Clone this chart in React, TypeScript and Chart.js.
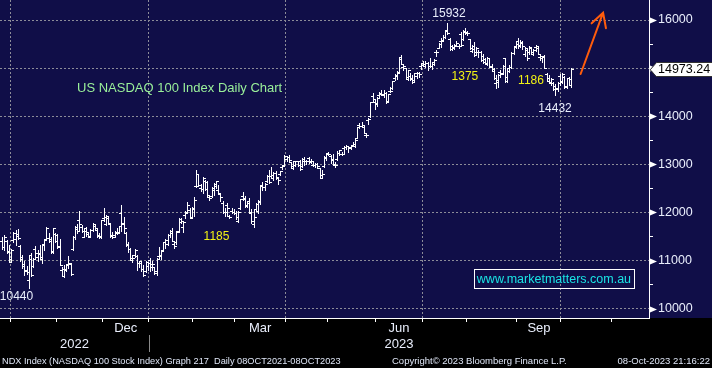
import React, { useEffect, useRef } from 'react';
import { Chart, registerables } from 'chart.js';

Chart.register(...registerables);

// Daily NDX bars, index 0 = 27-Sep-2022 ... index 258 = 06-Oct-2023
const opens: number[] = [
  11400, 11290, 11400, 11180, 11030, 11420, 11440, 11520, 11300, 11080,
  10880, 10800, 10600, 11120, 10880, 11250, 11080, 11150, 11030, 11340,
  11440, 11470, 11440, 11190, 11560, 11530, 11290, 10810, 10830, 10830,
  10930, 10920, 11240, 11500, 11660, 11850, 11700, 11500, 11680, 11560,
  11510, 11640, 11720, 11640, 11540, 11500, 11880, 11760, 11880, 11760,
  11520, 11540, 11580, 11600, 11990, 11780, 11580, 11330, 11240, 11020,
  11120, 11100, 10950, 10950, 10830, 10780, 10880, 11010, 10930, 10860,
  10790, 11100, 11090, 11220, 11390, 11340, 11530, 11620, 11350, 11380,
  11620, 11800, 11690, 11950, 11990, 12050, 11900, 12080, 12550, 12560,
  12510, 12480, 12660, 12630, 12330, 12340, 12460, 12550, 12470, 12380,
  12190, 12020, 12150, 11930, 12040, 12000, 11990, 11830, 12100, 12340,
  12290, 12160, 12230, 12000, 11750, 12070, 12030, 12220, 12570, 12530,
  12660, 12750, 12750, 12720, 12830, 12720, 12800, 12950, 12990, 13110,
  13160, 13040, 12930, 12980, 13070, 13070, 12960, 13070, 13060, 13130,
  13040, 12990, 12990, 13000, 12920, 12780, 12960, 13130, 13220, 13180,
  13110, 12990, 13110, 13240, 13220, 13350, 13370, 13380, 13360, 13390,
  13420, 13550, 13810, 13800, 13770, 13600, 13930, 14000, 14420, 14290,
  14270, 14440, 14480, 14440, 14480, 14310, 14520, 14580, 14800, 14850,
  14900, 15230, 15020, 15000, 14780, 14830, 14780, 14760, 14840, 14900,
  15040, 15100, 15040, 15100, 15050, 15040, 15120, 15340, 15420, 15560,
  15580, 15650, 15800, 15600, 15450, 15430, 15480, 15460, 15700, 15600,
  15780, 15740, 15600, 15360, 15470, 15330, 15340, 15340, 15250, 15120,
  15080, 15200, 15020, 14980, 14690, 14760, 14920, 14900, 15200, 14820,
  15010, 15030, 15320, 15450, 15560, 15470, 15520, 15300, 15380, 15330,
  15420, 15330, 15440, 15420, 15240, 15220, 15250, 14880, 14800, 14690,
  14700, 14620, 14560, 14840, 14740, 14820, 14620, 14800, 14640,
];
const highs: number[] = [
  11490, 11530, 11420, 11330, 11250, 11590, 11640, 11660, 11330, 11120,
  11000, 10890, 11100, 11150, 11050, 11300, 11210, 11320, 11340, 11450,
  11690, 11580, 11500, 11680, 11580, 11560, 11440, 10860, 10900, 10920,
  11100, 10960, 11520, 11720, 11760, 12040, 11730, 11660, 11700, 11580,
  11650, 11780, 11740, 11680, 11580, 11850, 12100, 11950, 11920, 11780,
  11600, 11620, 11680, 11720, 12160, 11900, 11600, 11380, 11270, 11110,
  11250, 11120, 11000, 10970, 10910, 11000, 10960, 11060, 10990, 10870,
  11060, 11280, 11200, 11380, 11440, 11550, 11640, 11680, 11380, 11620,
  11880, 11880, 11830, 12040, 12220, 12090, 12110, 12320, 12880, 12780,
  12590, 12740, 12680, 12660, 12360, 12520, 12620, 12660, 12580, 12390,
  12230, 12090, 12190, 11950, 12100, 12070, 12030, 12030, 12280, 12420,
  12350, 12220, 12300, 12070, 12070, 12190, 12250, 12580, 12640, 12610,
  12770, 12890, 12940, 12840, 12860, 12730, 12870, 12990, 13190, 13180,
  13200, 13050, 13080, 13070, 13080, 13090, 13130, 13150, 13090, 13150,
  13110, 13070, 13020, 13030, 12930, 12880, 13180, 13240, 13260, 13190,
  13210, 13040, 13270, 13300, 13260, 13380, 13410, 13390, 13410, 13470,
  13530, 13780, 13860, 13870, 13810, 13640, 13970, 14300, 14480, 14330,
  14400, 14510, 14540, 14540, 14500, 14470, 14610, 14730, 14880, 14950,
  15210, 15280, 15060, 15010, 14970, 14900, 14860, 14900, 14920, 14920,
  15090, 15140, 15140, 15130, 15220, 15110, 15190, 15380, 15520, 15620,
  15690, 15790, 15932, 15620, 15480, 15500, 15560, 15500, 15760, 15800,
  15830, 15780, 15610, 15480, 15540, 15440, 15380, 15360, 15290, 15200,
  15230, 15210, 15080, 15010, 14860, 14880, 14960, 15060, 15210, 14980,
  15060, 15330, 15450, 15540, 15620, 15580, 15560, 15440, 15400, 15470,
  15440, 15400, 15480, 15440, 15300, 15260, 15270, 14890, 14860, 14790,
  14720, 14670, 14720, 14880, 14900, 14840, 14800, 14820, 15000,
];
const lows: number[] = [
  11240, 11230, 11160, 10970, 10990, 11380, 11330, 11440, 10990, 10850,
  10710, 10730, 10440, 10680, 10870, 11030, 11000, 11030, 10960, 11230,
  11440, 11380, 11160, 11160, 11390, 11270, 10910, 10670, 10650, 10780,
  10850, 10700, 11230, 11440, 11580, 11640, 11600, 11480, 11520, 11480,
  11490, 11620, 11660, 11500, 11470, 11470, 11830, 11740, 11750, 11480,
  11460, 11500, 11560, 11570, 11620, 11600, 11300, 11180, 11030, 10980,
  11080, 10800, 10860, 10780, 10680, 10770, 10810, 10780, 10810, 10720,
  10700, 11060, 11040, 11200, 11260, 11330, 11500, 11400, 11260, 11340,
  11600, 11780, 11590, 11880, 11980, 11880, 11880, 11930, 12520, 12540,
  12440, 12400, 12460, 12330, 12260, 12330, 12370, 12510, 12400, 12240,
  11990, 11930, 11940, 11880, 11980, 11960, 11860, 11810, 12080, 12260,
  12110, 12120, 11980, 11790, 11700, 12030, 11990, 12170, 12460, 12470,
  12630, 12620, 12710, 12670, 12700, 12600, 12780, 12910, 12980, 13060,
  13050, 12920, 12900, 12960, 12960, 12880, 12950, 12990, 13000, 13020,
  13020, 12960, 12940, 12920, 12720, 12730, 12940, 13090, 13190, 13030,
  13000, 12950, 13100, 13200, 13200, 13240, 13320, 13250, 13310, 13380,
  13360, 13540, 13750, 13780, 13650, 13560, 13840, 13990, 14290, 14160,
  14220, 14390, 14440, 14400, 14270, 14300, 14500, 14570, 14750, 14780,
  14890, 15080, 14970, 14800, 14750, 14760, 14700, 14740, 14790, 14820,
  14990, 15060, 15020, 14960, 15030, 14990, 15060, 15250, 15410, 15440,
  15560, 15620, 15700, 15380, 15380, 15400, 15460, 15420, 15450, 15580,
  15710, 15680, 15400, 15340, 15260, 15270, 15230, 15140, 15110, 15080,
  15060, 15020, 14940, 14780, 14590, 14600, 14820, 14880, 14720, 14710,
  14920, 15010, 15300, 15420, 15420, 15440, 15400, 15250, 15170, 15300,
  15290, 15280, 15360, 15290, 15170, 15120, 15000, 14730, 14700, 14640,
  14540, 14432, 14520, 14640, 14690, 14590, 14590, 14640, 14600,
];
const closes: number[] = [
  11290, 11500, 11200, 10980, 11230, 11576, 11548, 11464, 11039, 10924,
  10789, 10755, 11041, 10690, 11037, 11152, 11137, 11070, 11322, 11431,
  11671, 11400, 11187, 11667, 11406, 11313, 10918, 10675, 10800, 10900,
  10960, 10730, 11480, 11700, 11610, 11760, 11620, 11620, 11600, 11500,
  11640, 11750, 11680, 11520, 11510, 11840, 11900, 11920, 11780, 11530,
  11480, 11600, 11580, 11710, 11760, 11680, 11350, 11250, 11050, 11060,
  11220, 10950, 10990, 10830, 10690, 10970, 10940, 10860, 10920, 10740,
  11040, 11110, 11190, 11380, 11420, 11540, 11580, 11410, 11300, 11600,
  11860, 11830, 11810, 12020, 12150, 11890, 12100, 12260, 12800, 12580,
  12490, 12710, 12480, 12360, 12310, 12510, 12590, 12650, 12410, 12320,
  12000, 12000, 12090, 11900, 12000, 11990, 11900, 12020, 12270, 12300,
  12140, 12200, 11990, 11830, 11910, 12170, 12240, 12550, 12520, 12600,
  12760, 12630, 12780, 12820, 12730, 12680, 12860, 12970, 13180, 13150,
  13100, 12960, 13060, 13060, 12990, 12900, 13120, 13080, 13080, 13080,
  13080, 12990, 13010, 12970, 12720, 12800, 13160, 13230, 13210, 13100,
  13010, 12980, 13240, 13290, 13220, 13360, 13390, 13340, 13400, 13390,
  13510, 13770, 13790, 13820, 13660, 13600, 13940, 14300, 14350, 14250,
  14380, 14460, 14470, 14480, 14290, 14460, 14520, 14730, 14840, 14920,
  15190, 15090, 15040, 14820, 14960, 14790, 14710, 14890, 14900, 14880,
  15070, 15090, 15100, 15040, 15040, 15090, 15160, 15340, 15500, 15570,
  15650, 15770, 15720, 15400, 15420, 15450, 15520, 15470, 15480, 15760,
  15760, 15730, 15420, 15400, 15280, 15420, 15330, 15160, 15180, 15110,
  15220, 15040, 14950, 14800, 14720, 14860, 14870, 15050, 14730, 14940,
  15020, 15320, 15430, 15500, 15480, 15540, 15450, 15410, 15210, 15440,
  15300, 15380, 15450, 15300, 15260, 15230, 15010, 14740, 14710, 14780,
  14560, 14580, 14700, 14710, 14880, 14600, 14790, 14770, 14973.24,
];

// Month structure (array index of each month's first trading day): Oct-22 ... Nov-23
const monthStartIndex = [4, 25, 46, 67, 87, 106, 129, 148, 170, 191, 211, 234, 254, 277];
const quarterStartIndex = [4, 67, 129, 191, 254];
const monthLabelText = [['Dec'], ['Mar'], ['Jun', '2023'], ['Sep']];
const monthLabelStart = [46, 106, 170, 234];
const monthLabelEnd = [67, 129, 191, 254];
const firstYearLabel = ['', '2022'];
const yearBoundaryIndex = 67;

const yMajorTicks = [10000, 11000, 12000, 13000, 14000, 15000, 16000];
const yMinorTicks = [10500, 11500, 12500, 13500, 14500, 15500];

const X_MIN = -1.04;
const X_MAX = 293.43;
const Y_MIN = 9806.7;
const Y_MAX = 16415.7;

const NAVY = '#100e48';
const GRID = '#8c8c98';
const LIGHT = '#e9eefc';
const YELLOW = '#f2f214';
const GREEN = '#9af09a';
const CYAN = '#1ae4e4';
const ORANGE = '#ff5c0c';
const FONT = '"Liberation Sans", Arial, sans-serif';

const annotations = [
  { text: '15932', k: 202.7, v: 16139, color: LIGHT, align: 'center', size: 12 },
  { text: '1375', k: 209.9, v: 14832, color: YELLOW, align: 'center', size: 12 },
  { text: '1186', k: 239.9, v: 14732, color: YELLOW, align: 'center', size: 12 },
  { text: '14432', k: 250.8, v: 14150, color: LIGHT, align: 'center', size: 12 },
  { text: '1185', k: 97.2, v: 11505, color: YELLOW, align: 'center', size: 12 },
  { text: '10440', k: 6.45, v: 10243, color: LIGHT, align: 'center', size: 12 },
  { text: 'US NASDAQ 100 Index Daily Chart', k: 33.9, v: 14572, color: GREEN, align: 'left', size: 13 },
];
const website = { text: 'www.marketmatters.com.au', k: 250.3, v: 10628 };
const arrow = { from: [262.4, 14878], tip: [272.6, 16152], armA: [267.4, 15931], armB: [273.9, 15828] };

function buildXTicks() {
  const ticks: any[] = [];
  monthStartIndex.forEach((m) =>
    ticks.push({ value: m - 0.5, kind: quarterStartIndex.includes(m) ? 'quarter' : 'month', text: '' })
  );
  monthLabelText.forEach((t, j) =>
    ticks.push({ value: (monthLabelStart[j] + monthLabelEnd[j]) / 2 - 0.5, kind: 'label', text: t })
  );
  ticks.push({ value: (X_MIN + yearBoundaryIndex - 0.5) / 2, kind: 'label', text: firstYearLabel });
  return ticks.sort((a, b) => a.value - b.value);
}

function buildYTicks() {
  const ticks: any[] = [];
  yMajorTicks.forEach((v) => ticks.push({ value: v, kind: 'major', text: String(v) }));
  yMinorTicks.forEach((v) => ticks.push({ value: v, kind: 'minor', text: '' }));
  return ticks.sort((a, b) => a.value - b.value);
}

const ohlcPlugin = {
  id: 'ohlcDraw',
  beforeDraw(chart: any) {
    const { ctx, chartArea } = chart;
    ctx.save();
    ctx.fillStyle = '#000';
    ctx.fillRect(0, 0, chart.width, chart.height);
    ctx.fillStyle = NAVY;
    ctx.fillRect(0, 0, chart.width, chartArea.bottom);
    ctx.restore();
  },
  beforeDatasetDraw(chart: any, args: any) {
    if (args.index !== 0) return;
    const { ctx, chartArea } = chart;
    const ys = chart.scales.y;
    ctx.save();
    ctx.beginPath();
    ctx.rect(chartArea.left, chartArea.top, chartArea.right - chartArea.left, chartArea.bottom - chartArea.top);
    ctx.clip();
    ctx.fillStyle = '#ffffff';
    args.meta.data.forEach((el: any, i: number) => {
      const p = el.getProps(['x', 'y', 'base'], true);
      const px = Math.round(p.x);
      const top = Math.round(Math.min(p.y, p.base));
      const bot = Math.round(Math.max(p.y, p.base));
      ctx.fillRect(px, top, 1, bot - top + 1);
      const yo = Math.round(ys.getPixelForValue(opens[i]));
      const yc = Math.round(ys.getPixelForValue(closes[i]));
      ctx.fillRect(px - 2, yo, 2, 1);
      ctx.fillRect(px + 1, yc, 2, 1);
    });
    ctx.restore();
    return false;
  },
  afterDraw(chart: any) {
    const { ctx, chartArea } = chart;
    const xs = chart.scales.x;
    const ys = chart.scales.y;
    const px = (k: number) => xs.getPixelForValue(k);
    const py = (v: number) => ys.getPixelForValue(v);
    const axisX = chartArea.right;
    ctx.save();

    // axis markers at major ticks
    ctx.fillStyle = '#ffffff';
    yMajorTicks.forEach((v) => {
      const y = Math.round(py(v)) + 0.5;
      ctx.beginPath();
      ctx.moveTo(axisX + 1, y - 3);
      ctx.lineTo(axisX + 8, y);
      ctx.lineTo(axisX + 1, y + 3);
      ctx.closePath();
      ctx.fill();
    });

    // year separator under the axis
    ctx.fillStyle = '#8a8a8a';
    ctx.fillRect(Math.round(px(yearBoundaryIndex - 0.5)), chartArea.bottom + 17, 1, 17);

    // text annotations
    ctx.textBaseline = 'middle';
    annotations.forEach((a) => {
      ctx.font = `${a.size}px ${FONT}`;
      ctx.fillStyle = a.color;
      ctx.textAlign = a.align as CanvasTextAlign;
      ctx.fillText(a.text, px(a.k), py(a.v));
    });

    // website box
    ctx.font = `12.5px ${FONT}`;
    ctx.textAlign = 'center';
    const wx = px(website.k);
    const wy = py(website.v);
    const tw = ctx.measureText(website.text).width;
    ctx.strokeStyle = '#ffffff';
    ctx.lineWidth = 1;
    ctx.strokeRect(Math.round(wx - tw / 2 - 3) + 0.5, Math.round(wy - 9.5) + 0.5, Math.round(tw + 6), 19);
    ctx.fillStyle = CYAN;
    ctx.fillText(website.text, wx, wy + 1);

    // orange arrow
    ctx.strokeStyle = ORANGE;
    ctx.lineWidth = 2;
    ctx.lineCap = 'round';
    ctx.beginPath();
    ctx.moveTo(px(arrow.from[0]), py(arrow.from[1]));
    ctx.lineTo(px(arrow.tip[0]), py(arrow.tip[1]));
    ctx.moveTo(px(arrow.armA[0]), py(arrow.armA[1]));
    ctx.lineTo(px(arrow.tip[0]), py(arrow.tip[1]));
    ctx.lineTo(px(arrow.armB[0]), py(arrow.armB[1]));
    ctx.stroke();

    // last price box
    const last = closes[closes.length - 1];
    const yP = Math.round(py(last)) + 0.5;
    ctx.lineWidth = 1;
    ctx.beginPath();
    ctx.moveTo(axisX + 1.5, yP);
    ctx.lineTo(axisX + 7.5, yP - 7);
    ctx.lineTo(chart.width + 2, yP - 7);
    ctx.lineTo(chart.width + 2, yP + 7);
    ctx.lineTo(axisX + 7.5, yP + 7);
    ctx.closePath();
    ctx.fillStyle = '#ffffff';
    ctx.fill();
    ctx.strokeStyle = '#333333';
    ctx.stroke();
    ctx.fillStyle = '#000000';
    ctx.font = `12.5px ${FONT}`;
    ctx.textAlign = 'left';
    ctx.fillText(last.toFixed(2), axisX + 9, yP + 0.5);

    ctx.restore();
  },
};

const footerBase: React.CSSProperties = {
  position: 'absolute',
  top: 354,
  height: 14,
  lineHeight: '14px',
  fontFamily: FONT,
  fontSize: 9.5,
  color: '#dfe6f6',
  whiteSpace: 'pre',
};

export default function App() {
  const ref = useRef<HTMLCanvasElement>(null);

  useEffect(() => {
    if (!ref.current) return;
    const chart = new Chart(ref.current, {
      type: 'bar',
      data: {
        datasets: [
          {
            label: 'NDX',
            data: opens.map((_, k) => ({ x: k, y: [lows[k], highs[k]] })) as any,
            backgroundColor: '#ffffff',
            borderWidth: 0,
            barThickness: 1,
          },
        ],
      },
      options: {
        responsive: false,
        animation: false,
        devicePixelRatio: 1,
        events: [],
        layout: { padding: 0 },
        plugins: {
          legend: { display: false },
          tooltip: { enabled: false },
          title: { display: false },
        },
        scales: {
          x: {
            type: 'linear',
            position: 'bottom',
            min: X_MIN,
            max: X_MAX,
            offset: false,
            afterBuildTicks: (s: any) => {
              s.ticks = buildXTicks();
            },
            afterFit: (s: any) => {
              s.height = 50;
              s.paddingLeft = 0;
              s.paddingRight = 0;
              s.paddingTop = 0;
              s.paddingBottom = 0;
            },
            grid: {
              offset: false,
              lineWidth: 1,
              tickLength: 4,
              color: (c: any) => (c.tick && c.tick.kind === 'quarter' ? GRID : 'rgba(0,0,0,0)'),
              tickColor: (c: any) => (c.tick && c.tick.kind !== 'label' ? '#ffffff' : 'rgba(0,0,0,0)'),
            },
            border: { display: true, color: '#ffffff', width: 1, dash: [2, 2] },
            ticks: {
              autoSkip: false,
              maxRotation: 0,
              minRotation: 0,
              padding: -2,
              color: LIGHT,
              font: { family: FONT, size: 13, lineHeight: 1.2308 },
              callback: (_v: any, i: number, t: any[]) => (t[i] && t[i].text) || '',
            },
          } as any,
          y: {
            type: 'linear',
            position: 'right',
            min: Y_MIN,
            max: Y_MAX,
            afterBuildTicks: (s: any) => {
              s.ticks = buildYTicks();
            },
            afterFit: (s: any) => {
              s.width = 63;
              s.paddingLeft = 0;
              s.paddingRight = 0;
              s.paddingTop = 0;
              s.paddingBottom = 0;
            },
            grid: {
              lineWidth: 1,
              tickLength: 4,
              color: (c: any) => (c.tick && c.tick.kind === 'major' ? GRID : 'rgba(0,0,0,0)'),
              tickColor: (c: any) => (c.tick && c.tick.kind === 'minor' ? '#ffffff' : 'rgba(0,0,0,0)'),
            },
            border: { display: true, color: '#ffffff', width: 1, dash: [2, 2] },
            ticks: {
              autoSkip: false,
              padding: 5,
              color: LIGHT,
              font: { family: FONT, size: 12.5 },
              callback: (_v: any, i: number, t: any[]) => (t[i] && t[i].text) || '',
            },
          } as any,
        },
      },
      plugins: [ohlcPlugin as any],
    });
    return () => chart.destroy();
  }, []);

  return (
    <div
      style={{
        position: 'fixed',
        left: 0,
        top: 0,
        width: 712,
        height: 368,
        background: '#000',
        overflow: 'hidden',
      }}
    >
      <canvas ref={ref} width={712} height={368} style={{ display: 'block', width: 712, height: 368 }} />
      <div style={{ ...footerBase, left: 2, transform: 'scaleX(0.97)', transformOrigin: 'left center' }}>
        {'NDX Index (NASDAQ 100 Stock Index) Graph 217  Daily 08OCT2021-08OCT2023'}
      </div>
      <div style={{ ...footerBase, left: 392 }}>{'Copyright\u00A9 2023 Bloomberg Finance L.P.'}</div>
      <div style={{ ...footerBase, right: 2 }}>{'08-Oct-2023 21:16:22'}</div>
    </div>
  );
}
